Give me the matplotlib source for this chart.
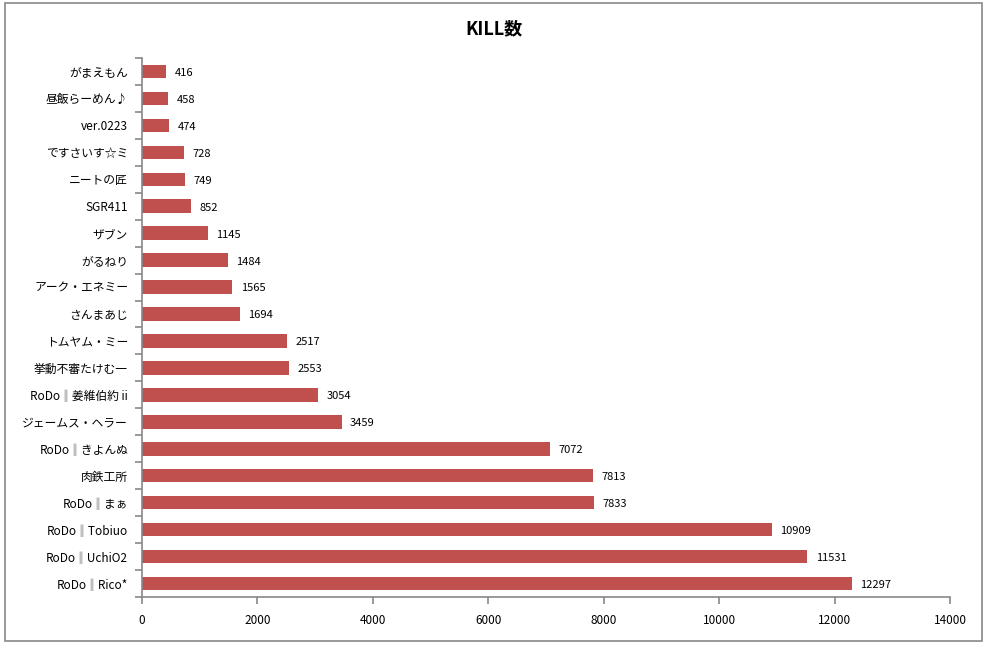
import matplotlib.pyplot as plt
from matplotlib.patches import Rectangle
from matplotlib.ticker import FixedLocator

plt.rcParams['font.family'] = ['Noto Sans CJK JP', 'DejaVu Sans']

# 上から順
players = [
    'がまえもん', '昼飯らーめん♪', 'ver.0223', 'ですさいす☆ミ', 'ニートの匠',
    'SGR411', 'ザブン', 'がるねり', 'アーク・エネミー', 'さんまあじ',
    'トムヤム・ミー', '挙動不審たけむ一', 'RoDo‖姜維伯約 ii', 'ジェームス・ヘラー',
    'RoDo‖きよんぬ', '肉鉄工所', 'RoDo‖まぁ', 'RoDo‖Tobiuo', 'RoDo‖UchiO2',
    'RoDo‖Rico*',
]
kills = [416, 458, 474, 728, 749, 852, 1145, 1484, 1565, 1694,
         2517, 2553, 3054, 3459, 7072, 7813, 7833, 10909, 11531, 12297]
x_ticks = [0, 2000, 4000, 6000, 8000, 10000, 12000, 14000]

fig = plt.figure(figsize=(9.87, 6.48), dpi=100)
ax = fig.add_axes([0.1439, 0.0787, 0.8186, 0.8318])

# 外枠
fig.patches.append(Rectangle((0.005, 0.011), 0.99, 0.984, transform=fig.transFigure,
                             fill=False, edgecolor='#888888', linewidth=1.2))

pos = list(range(len(players)))
ax.barh(pos, kills, height=0.5, color='#C0504D')
for p, v in zip(pos, kills):
    ax.annotate(str(v), (v, p), xytext=(6, -1), textcoords='offset points',
                va='center', ha='left', fontsize=8)

ax.set_ylim(len(players) - 0.5, -0.5)
ax.set_xlim(0, 14000)
ax.set_yticks(pos)
ax.set_yticklabels(players, fontsize=8.5)
ax.yaxis.set_minor_locator(FixedLocator([i - 0.5 for i in range(len(players) + 1)]))
ax.tick_params(axis='y', which='major', length=0, pad=10)
ax.tick_params(axis='y', which='minor', length=5, width=1.2, color='#888888')
ax.set_xticks(x_ticks)
ax.set_xticklabels([str(t) for t in x_ticks], fontsize=8.5)
ax.tick_params(axis='x', length=5, width=1.2, color='#888888', pad=7)

for s in ['top', 'right']:
    ax.spines[s].set_visible(False)
for s in ['left', 'bottom']:
    ax.spines[s].set_color('#888888')
    ax.spines[s].set_linewidth(1.2)

fig.text(0.5, 0.955, 'KILL数', ha='center', va='center', fontsize=13, fontweight='bold')

fig.savefig('out.png', dpi=100)
